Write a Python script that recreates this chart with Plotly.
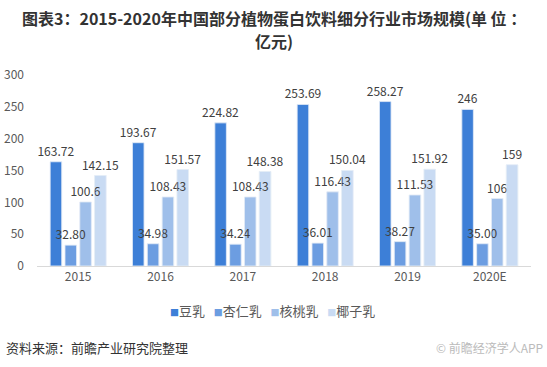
import plotly.graph_objects as go

years = ["2015", "2016", "2017", "2018", "2019", "2020E"]
soy = [163.72, 193.67, 224.82, 253.69, 258.27, 246]
almond = [32.80, 34.98, 34.24, 36.01, 38.27, 35.00]
walnut = [100.6, 108.43, 108.43, 116.43, 111.53, 106]
coconut = [142.15, 151.57, 148.38, 150.04, 151.92, 159]
soy_labels = ["163.72", "193.67", "224.82", "253.69", "258.27", "246"]
almond_labels = ["32.80", "34.98", "34.24", "36.01", "38.27", "35.00"]
walnut_labels = ["100.6", "108.43", "108.43", "116.43", "111.53", "106"]
coconut_labels = ["142.15", "151.57", "148.38", "150.04", "151.92", "159"]

series = [
    ("豆乳", soy, soy_labels, "#3D7FD7"),
    ("杏仁乳", almond, almond_labels, "#6C9DE1"),
    ("核桃乳", walnut, walnut_labels, "#9FBFEA"),
    ("椰子乳", coconut, coconut_labels, "#C9DBF3"),
]

font_family = "Noto Sans CJK SC, Noto Sans, sans-serif"

fig = go.Figure()
# solid bars
for i, (name, vals, labels, color) in enumerate(series):
    fig.add_trace(go.Bar(
        x=years, y=vals, name=name, marker_color=color,
        offsetgroup=str(i), showlegend=False, hoverinfo="x+y+name",
    ))
# transparent overlay bars carrying the value labels, drawn on top of all bars
for i, (name, vals, labels, color) in enumerate(series):
    fig.add_trace(go.Bar(
        x=years, y=vals, name=name, marker_color="rgba(0,0,0,0)",
        offsetgroup=str(i), showlegend=False, hoverinfo="skip",
        text=labels, textposition="outside", cliponaxis=False,
        textfont=dict(size=12, color="#404040", family=font_family),
    ))

fig.update_layout(
    width=547, height=367,
    margin=dict(l=37, r=16, t=75, b=101),
    paper_bgcolor="white", plot_bgcolor="white",
    barmode="group", bargap=0.28, bargroupgap=0.22,
    uniformtext=dict(minsize=12, mode="show"),
    font=dict(family=font_family, color="#595959", size=12),
    xaxis=dict(
        showline=True, linecolor="#D9D9D9", linewidth=1,
        ticks="", tickfont=dict(size=12, color="#595959"),
        showgrid=False, automargin=False,
    ),
    yaxis=dict(
        range=[0, 300], dtick=50, showgrid=False, zeroline=False,
        showline=False, ticks="", ticklabelstandoff=12, automargin=False,
        tickfont=dict(size=12, color="#595959"),
    ),
    showlegend=False,
)

title_lines = ["图表3：2015-2020年中国部分植物蛋白饮料细分行业市场规模(单 位 ：", "亿元)"]
for line, ypx in zip(title_lines, [18, 41]):
    fig.add_annotation(
        text=f"<b>{line}</b>", xref="paper", yref="paper",
        x=(274 - 37) / 494, xanchor="center",
        y=(266 - ypx) / 191, yanchor="middle", showarrow=False,
        font=dict(size=16, color="#333333", family=font_family),
    )

# legend row built from series names/colours
legend_parts = []
for name, _, _, color in series:
    legend_parts.append(
        f"<span style='font-size:9px;color:{color}'>■</span>{name}"
    )
fig.add_annotation(
    text="&nbsp;&nbsp;&nbsp;".join(legend_parts), xref="paper", yref="paper",
    x=(272 - 37) / 494, xanchor="center", y=-44 / 191, yanchor="middle",
    showarrow=False, font=dict(size=13, color="#595959", family=font_family),
)

fig.add_annotation(
    text="资料来源：前瞻产业研究院整理", xref="paper", yref="paper",
    x=-33 / 494, xanchor="left", y=-81 / 191, yanchor="middle", showarrow=False,
    font=dict(size=13, color="#333333", family=font_family),
)
fig.add_annotation(
    text="© 前瞻经济学人APP", xref="paper", yref="paper",
    x=(545 - 37) / 494, xanchor="right", y=-81 / 191, yanchor="middle", showarrow=False,
    font=dict(size=12, color="#BBBBBB", family=font_family),
)

fig.write_html(
    "out.html",
    config={"displayModeBar": False},
    post_script="document.body.style.margin='0';",
)
